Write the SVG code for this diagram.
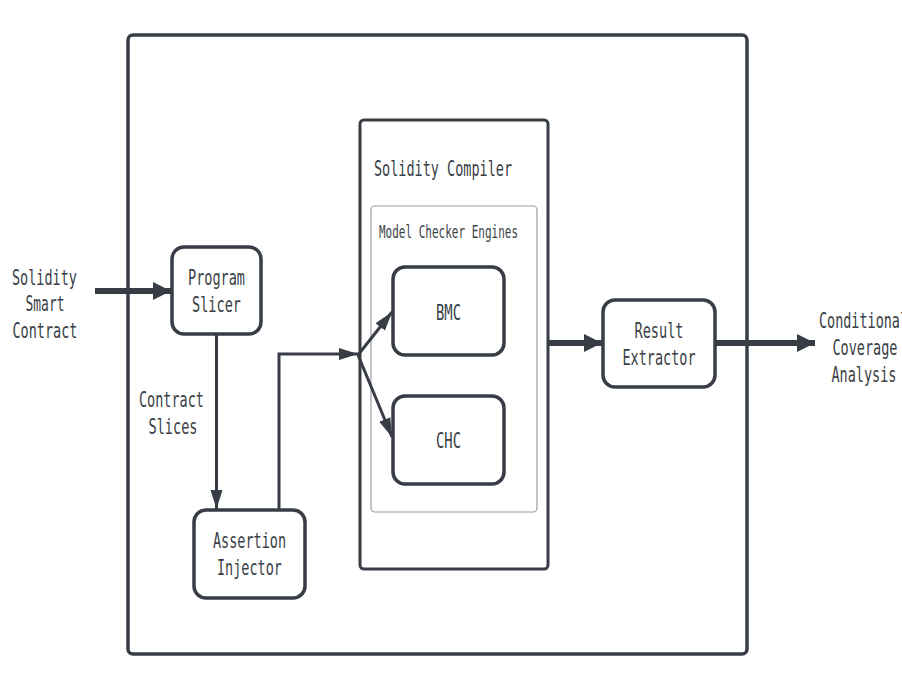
<svg xmlns="http://www.w3.org/2000/svg" width="902" height="689" viewBox="0 0 902 689">
<style>
.t{font-family:"DejaVu Sans Mono","Liberation Mono",monospace;font-size:22px;fill:#3a3f47;text-anchor:middle}
.s{font-family:"DejaVu Sans Mono","Liberation Mono",monospace;font-size:18px;fill:#3a3f47}
.node{fill:#fff;stroke:#373c45;stroke-width:3.5}
.thin{fill:none;stroke:#373c45;stroke-width:3}
.thick{fill:none;stroke:#373c45;stroke-width:6}
</style>
<defs>
<marker id="big" markerUnits="userSpaceOnUse" markerWidth="20" markerHeight="20" viewBox="0 0 20 20" refX="18" refY="10" orient="auto">
<path d="M0,1 L18,10 L0,19 z" fill="#373c45"/>
</marker>
<marker id="small" markerUnits="userSpaceOnUse" markerWidth="20" markerHeight="14" viewBox="0 0 20 14" refX="19" refY="7" orient="auto">
<path d="M0,1 L19,7 L0,13 z" fill="#373c45"/>
</marker>
</defs>
<rect width="902" height="689" fill="#fff"/>
<g id="system">
<rect x="128" y="35" width="619" height="619" rx="5" fill="#fff" stroke="#373c45" stroke-width="3.5"/>
</g>
<g id="compiler">
<rect x="360" y="120" width="188" height="449" rx="4" fill="#fff" stroke="#373c45" stroke-width="3"/>
<text class="t" x="374" y="176" style="text-anchor:start" textLength="138" lengthAdjust="spacingAndGlyphs">Solidity Compiler</text>
</g>
<g id="engines">
<rect x="371" y="206" width="166" height="306" rx="4" fill="#fff" stroke="#9a9da2" stroke-width="1.2"/>
<text class="s" x="379" y="238" textLength="139" lengthAdjust="spacingAndGlyphs">Model Checker Engines</text>
</g>
<g id="input">
<text class="t" x="44.5" y="285" textLength="65" lengthAdjust="spacingAndGlyphs">Solidity</text>
<text class="t" x="45" y="311" textLength="39" lengthAdjust="spacingAndGlyphs">Smart</text>
<text class="t" x="45" y="338" textLength="65" lengthAdjust="spacingAndGlyphs">Contract</text>
</g>
<g id="slicer">
<rect class="node" x="172" y="247" width="89" height="87" rx="12"/>
<text class="t" x="216.5" y="285" textLength="57" lengthAdjust="spacingAndGlyphs">Program</text>
<text class="t" x="216.5" y="312" textLength="49" lengthAdjust="spacingAndGlyphs">Slicer</text>
</g>
<g id="injector">
<rect class="node" x="194" y="510" width="111" height="88" rx="12"/>
<text class="t" x="249.5" y="548" textLength="73" lengthAdjust="spacingAndGlyphs">Assertion</text>
<text class="t" x="249.5" y="575" textLength="65" lengthAdjust="spacingAndGlyphs">Injector</text>
</g>
<g id="bmc">
<rect class="node" x="393" y="267" width="111" height="88" rx="12"/>
<text class="t" x="448.5" y="320" textLength="25" lengthAdjust="spacingAndGlyphs">BMC</text>
</g>
<g id="chc">
<rect class="node" x="393" y="396" width="111" height="88" rx="12"/>
<text class="t" x="448.5" y="448" textLength="25" lengthAdjust="spacingAndGlyphs">CHC</text>
</g>
<g id="extractor">
<rect class="node" x="603" y="300" width="112" height="87" rx="12"/>
<text class="t" x="659" y="338" textLength="49" lengthAdjust="spacingAndGlyphs">Result</text>
<text class="t" x="659" y="365" textLength="73" lengthAdjust="spacingAndGlyphs">Extractor</text>
</g>
<g id="output">
<text class="t" x="819" y="328" style="text-anchor:start" textLength="89" lengthAdjust="spacingAndGlyphs">Conditional</text>
<text class="t" x="865" y="355" textLength="65" lengthAdjust="spacingAndGlyphs">Coverage</text>
<text class="t" x="864" y="382" textLength="65" lengthAdjust="spacingAndGlyphs">Analysis</text>
</g>
<g id="slices-label">
<text class="t" x="171.5" y="407" textLength="65" lengthAdjust="spacingAndGlyphs">Contract</text>
<text class="t" x="173" y="434" textLength="49" lengthAdjust="spacingAndGlyphs">Slices</text>
</g>
<g id="connectors">
<path class="thick" d="M95,291 L171,291" marker-end="url(#big)"/>
<path class="thin" d="M216.5,335 L216.5,509" marker-end="url(#small)"/>
<path class="thin" d="M279,510 L279,354 L358,354" marker-end="url(#small)"/>
<path class="thin" d="M358,355 L392,312" marker-end="url(#small)"/>
<path class="thin" d="M358,355 L392,437" marker-end="url(#small)"/>
<path class="thick" d="M548,343 L602,343" marker-end="url(#big)"/>
<path class="thick" d="M715,343 L815,343" marker-end="url(#big)"/>
</g>
</svg>
